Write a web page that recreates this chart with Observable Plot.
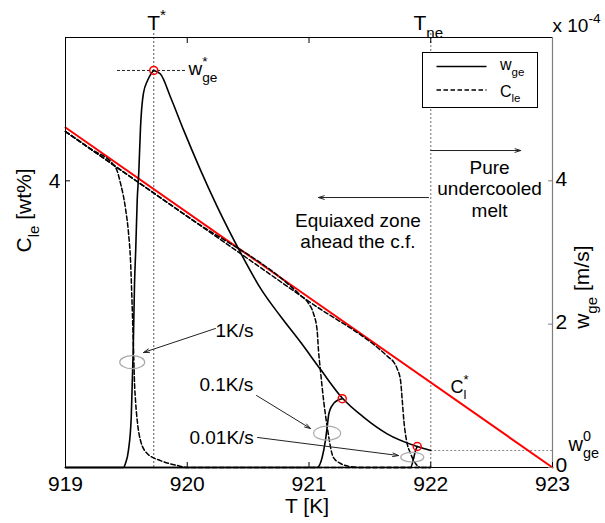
<!DOCTYPE html>
<html><head><meta charset="utf-8">
<script src="https://cdn.jsdelivr.net/npm/d3@7"></script>
<script src="https://cdn.jsdelivr.net/npm/@observablehq/plot@0.6"></script>
<style>
body{margin:0;background:#fff;}
#wrap{position:relative;width:605px;height:523px;font-family:"Liberation Sans",Arial,sans-serif;}
#legend{position:absolute;left:422px;top:52px;}
</style></head><body><div id="wrap"></div>
<script>
// ---------------- data ----------------
const tempTicks = [919, 920, 921, 922, 923];   // T [K]
const wTicks = [0, 2, 4];                       // w_ge [x1e-4 m/s]
const cTicks = [4];                             // C_le [wt%]
const cDomain = [3, 4.5];
const wDomain = [0, 6];

const Tstar = 919.725, Tne = 922.0, wStar = 5.54, w0 = 0.237;

// liquidus C_l*
const liqT = [919, 923];
const liqC = [4.186, 3.0];

// C_le(T) for each cooling rate
const cleT_1   = [919, 919.2, 919.411, 919.452, 919.493, 919.518, 919.534, 919.546, 919.559, 919.567, 919.575, 919.592, 919.616, 919.671, 919.78, 919.918, 920.0, 922.0];
const cleC_1   = [4.172, 4.113, 4.047, 3.991, 3.903, 3.816, 3.722, 3.583, 3.408, 3.293, 3.234, 3.153, 3.094, 3.049, 3.024, 3.007, 3.0, 3.0];
const cleT_01  = [919, 920.0, 920.931, 920.997, 921.037, 921.067, 921.078, 921.094, 921.12, 921.15, 921.2, 921.26, 921.34, 921.42, 922.0];
const cleC_01  = [4.172, 3.876, 3.600, 3.572, 3.537, 3.478, 3.408, 3.338, 3.234, 3.14, 3.035, 3.014, 3.003, 3.0, 3.0];
const cleT_001 = [919, 920, 921, 921.65, 921.697, 921.725, 921.752, 921.766, 921.779, 921.801, 921.834, 921.875, 921.916, 922];
const cleC_001 = [4.172, 3.876, 3.579, 3.386, 3.367, 3.344, 3.303, 3.234, 3.164, 3.094, 3.049, 3.014, 3.0, 3.0];

// w_ge(T) rising branches for each cooling rate
const wT_1   = [919, 919.476, 919.493, 919.517, 919.54, 919.556, 919.567, 919.577, 919.589, 919.602, 919.616, 919.64, 919.674, 919.705, 919.725];
const wW_1   = [0, 0, 0.06, 0.24, 0.70, 1.63, 2.57, 3.05, 3.73, 4.12, 4.74, 5.22, 5.40, 5.50, 5.54];
const wT_01  = [919, 921.067, 921.108, 921.135, 921.149, 921.163, 921.19, 921.232, 921.273];
const wW_01  = [0, 0, 0.14, 0.377, 0.56, 0.75, 0.865, 0.935, 0.96];
const wT_001 = [919, 921.834, 921.861, 921.875, 921.889];
const wW_001 = [0, 0, 0.14, 0.237, 0.293];
// common envelope
const envT = [919.725, 919.78, 919.862, 919.972, 920.109, 920.246, 920.437, 920.602, 920.766, 920.93, 921.094, 921.273, 921.45, 921.642, 921.889, 922.0];
const envW = [5.54, 5.49, 5.17, 4.70, 4.15, 3.64, 3.00, 2.50, 2.11, 1.75, 1.37, 0.97, 0.70, 0.47, 0.293, 0.237];

// peaks (red circles)
const peakT = [919.725, 921.273, 921.889];
const peakW = [5.54, 0.96, 0.293];

// annotation ellipses
const ellT = [919.548, 921.149, 921.848];
const ellW = [1.469, 0.479, 0.144];

// annotation arrows
const arrT1 = [920.232, 920.569, 920.577, 922.0, 921.982];
const arrW1 = [1.94, 1.005, 0.419, 4.423, 3.767];
const arrT2 = [919.641, 921.012, 921.735, 922.739, 921.078];
const arrW2 = [1.605, 0.544, 0.167, 4.423, 3.767];

// labels
const rateLabels = ["1K/s", "0.1K/s", "0.01K/s"];
const rateLabT = [920.232, 920.10, 920.018];
const rateLabW = [1.814, 1.074, 0.321];
const zoneLabels = ["Pure\nundercooled\nmelt", "Equiaxed zone\nahead the c.f."];
const zoneLabT = [922.483, 921.402];
const zoneLabW = [4.305, 3.565];
const topLabels = ["T^{*}", "T_{ne}"];
const topLabT = [919.671, 921.858];
const topLabW = [6.098, 6.098];
const legendKeys = ["w_{ge}", "C_{le}"];

// --------------- helpers ---------------
const cToW = c => (c - cDomain[0]) / (cDomain[1] - cDomain[0]) * (wDomain[1] - wDomain[0]) + wDomain[0];
const wToC = w => (w - wDomain[0]) / (wDomain[1] - wDomain[0]) * (cDomain[1] - cDomain[0]) + cDomain[0];
const rows = (xs, ys, extra = {}) => xs.map((x, i) => ({T: x, v: ys[i], ...extra}));

const liqRows = rows(liqT, liqC);
const cleRows = [
  ...rows(cleT_1, cleC_1, {rate: rateLabels[0]}),
  ...rows(cleT_01, cleC_01, {rate: rateLabels[1]}),
  ...rows(cleT_001, cleC_001, {rate: rateLabels[2]})
];
const wRows = [
  ...rows(wT_1, wW_1, {rate: rateLabels[0]}),
  ...rows(wT_01, wW_01, {rate: rateLabels[1]}),
  ...rows(wT_001, wW_001, {rate: rateLabels[2]}),
  ...rows(envT, envW, {rate: "envelope"})
];
const peakRows = rows(peakT, peakW);
const arrowRows = arrT1.map((t, i) => ({x1: t, y1: arrW1[i], x2: arrT2[i], y2: arrW2[i]}));
const rateLabRows = rateLabels.map((s, i) => ({s, T: rateLabT[i], v: rateLabW[i]}));
const zoneLabRows = zoneLabels.map((s, i) => ({s, T: zoneLabT[i], v: zoneLabW[i]}));
const topLabRows = topLabels.map((s, i) => ({s, T: topLabT[i], v: topLabW[i]}));

const ellipseSymbol = ratio => ({
  draw(ctx, size) {
    const rx = Math.sqrt(size / Math.PI), ry = rx * ratio, k = 0.5523;
    ctx.moveTo(rx, 0);
    ctx.bezierCurveTo(rx, k * ry, k * rx, ry, 0, ry);
    ctx.bezierCurveTo(-k * rx, ry, -rx, k * ry, -rx, 0);
    ctx.bezierCurveTo(-rx, -k * ry, -k * rx, -ry, 0, -ry);
    ctx.bezierCurveTo(k * rx, -ry, rx, -k * ry, rx, 0);
    ctx.closePath();
  }
});
const ellStyle = [{r: 12.5, ratio: 0.52}, {r: 13.5, ratio: 0.52}, {r: 11.5, ratio: 0.42}];

const yTop = 6.08;
const DASH = "4.5,2.5";

const chart = Plot.plot({
  width: 605, height: 523,
  marginLeft: 65, marginRight: 53, marginTop: 37, marginBottom: 56,
  x: {domain: [tempTicks[0], tempTicks[tempTicks.length - 1]]},
  y: {domain: wDomain},
  style: {fontFamily: "'Liberation Sans', Arial, sans-serif", fontSize: "21px", background: "white", color: "black", overflow: "visible"},
  marks: [
    Plot.ruleX([Tstar], {y1: 0, y2: yTop, stroke: "#555", strokeDasharray: "2,2", strokeWidth: 1}),
    Plot.ruleX([Tne], {y1: 0, y2: yTop, stroke: "#888", strokeDasharray: "2,2", strokeWidth: 1.2}),
    Plot.ruleY([w0], {x1: Tne, x2: tempTicks[4], stroke: "#888", strokeDasharray: "2,2", strokeWidth: 1.2}),
    Plot.ruleY([wStar], {x1: 919.427, x2: 920.002, stroke: "#222", strokeDasharray: "3,2", strokeWidth: 1}),
    Plot.line(liqRows, {x: "T", y: d => cToW(d.v), stroke: "#ff0000", strokeWidth: 2}),
    Plot.line(cleRows, {x: "T", y: d => cToW(d.v), z: "rate", stroke: "black", strokeWidth: 1.5, strokeDasharray: DASH, curve: "monotone-x"}),
    Plot.line(wRows, {x: "T", y: "v", z: "rate", stroke: "black", strokeWidth: 1.6, curve: "monotone-x"}),
    Plot.dot(peakRows, {x: "T", y: "v", r: 4, stroke: "#ff0000", strokeWidth: 1.5, fill: "none"}),
    ...ellT.map((t, i) => Plot.dot([{T: t, v: ellW[i]}], {x: "T", y: "v", r: ellStyle[i].r, symbol: ellipseSymbol(ellStyle[i].ratio), stroke: "#aaa", strokeWidth: 1.2, fill: "none"})),
    Plot.arrow(arrowRows, {x1: "x1", y1: "y1", x2: "x2", y2: "y2", stroke: "#222", strokeWidth: 1, headLength: 9, headAngle: 35}),
    Plot.text(rateLabRows, {x: "T", y: "v", text: "s", textAnchor: "start", lineAnchor: "bottom", fontSize: 19}),
    Plot.text(zoneLabRows, {x: "T", y: "v", text: "s", textAnchor: "middle", lineAnchor: "top", lineHeight: 1.12, fontSize: 19}),
    Plot.text(topLabRows, {x: "T", y: "v", text: "s", textAnchor: "start", lineAnchor: "bottom", fontSize: 21}),
    Plot.text(["x 10^{-4}"], {x: tempTicks[4], y: 6.07, text: d => d, textAnchor: "start", lineAnchor: "bottom", fontSize: 19}),
    Plot.text(["w^{*}_{ge}"], {x: 920.010, y: 5.47, text: d => d, textAnchor: "start", lineAnchor: "bottom", fontSize: 19}),
    Plot.text(["C^{*}_{l}"], {x: 922.162, y: 1.046, text: d => d, textAnchor: "start", lineAnchor: "bottom", fontSize: 18}),
    Plot.text(["w^{0}_{ge}"], {x: 923.131, y: w0, text: d => d, textAnchor: "start", lineAnchor: "bottom", fontSize: 20}),
    Plot.text(["T [K]"], {frameAnchor: "bottom", dx: -2, dy: 45, lineAnchor: "bottom", fontSize: 21}),
    Plot.text(["C_{le} [wt%]"], {frameAnchor: "left", dx: -41, rotate: -90, lineAnchor: "middle", fontSize: 21}),
    Plot.text(["w_{ge} [m/s]"], {frameAnchor: "right", dx: 30, dy: -7, rotate: -90, lineAnchor: "middle", fontSize: 21}),
    Plot.frame({stroke: "black", strokeWidth: 1}),
    Plot.ruleX([tempTicks[4]], {stroke: "#7f7f7f", strokeWidth: 1.2}),
    Plot.axisX({anchor: "bottom", ticks: tempTicks, tickSize: -5, tickPadding: 14, label: null, fontSize: 21, tickFormat: d => String(d)}),
    Plot.axisX({anchor: "top", ticks: tempTicks.slice(1, -1), tickSize: -5, tickFormat: () => "", label: null}),
    Plot.axisY({anchor: "left", ticks: cTicks.map(cToW), tickSize: -5, tickPadding: 10, label: null, fontSize: 21, tickFormat: w => String(+wToC(w).toFixed(2))}),
    Plot.axisY({anchor: "right", ticks: wTicks, tickSize: -5, label: null, stroke: "#7f7f7f", tickFormat: () => ""}),
    Plot.axisY({anchor: "right", ticks: wTicks, tickSize: 0, tickPadding: 3, dy: -2, label: null, fontSize: 21, fill: "black", tickFormat: d => String(d)})
  ]
});

const wrap = document.getElementById("wrap");
wrap.appendChild(chart);

// legend (inside the axes, as in the original)
const NS = "http://www.w3.org/2000/svg";
const leg = document.createElementNS(NS, "svg");
leg.setAttribute("id", "legend");
leg.setAttribute("width", 117); leg.setAttribute("height", 57);
leg.style.fontFamily = "'Liberation Sans', Arial, sans-serif";
leg.innerHTML = `<rect x="0.5" y="0.5" width="115" height="55" fill="white" stroke="black" stroke-width="1"/>`;
legendKeys.forEach((k, i) => {
  const yy = 14.5 + i * 23.5;
  const ln = document.createElementNS(NS, "line");
  ln.setAttribute("x1", 14.5); ln.setAttribute("x2", 64.5);
  ln.setAttribute("y1", yy); ln.setAttribute("y2", yy);
  ln.setAttribute("stroke", "black"); ln.setAttribute("stroke-width", 1.5);
  if (i === 1) ln.setAttribute("stroke-dasharray", DASH);
  leg.appendChild(ln);
  const tx = document.createElementNS(NS, "text");
  tx.setAttribute("x", 78); tx.setAttribute("y", yy + 3.5 + i * 3);
  tx.setAttribute("font-size", 16);
  tx.textContent = k;
  leg.appendChild(tx);
});
wrap.appendChild(leg);

// render _{sub} / ^{sup} markup as real tspans
function richify(root) {
  const SUB = 0.36, SUP = 0.5;
  root.querySelectorAll("text, tspan").forEach(el => {
    if (el.children.length) return;
    const s = el.textContent;
    if (!/[_^]\{/.test(s)) return;
    const fs = parseFloat(getComputedStyle(el).fontSize) || 16;
    el.textContent = "";
    const re = /([_^])\{([^}]*)\}|([^_^]+)/g;
    let m, shift = 0, prev = null;
    while ((m = re.exec(s))) {
      const t = document.createElementNS(NS, "tspan");
      let target;
      if (m[3] !== undefined) { t.textContent = m[3]; target = 0; }
      else {
        t.textContent = m[2];
        target = m[1] === "_" ? SUB * fs : -SUP * fs;
        t.setAttribute("font-size", (0.72 * fs).toFixed(1));
      }
      if (target !== shift) t.setAttribute("dy", (target - shift).toFixed(2));
      shift = target;
      if (m[3] === undefined && prev && prev.kind !== m[1]) {
        t.setAttribute("dx", (-prev.el.getComputedTextLength()).toFixed(2));
      }
      el.appendChild(t);
      prev = m[3] === undefined ? {kind: m[1], el: t} : null;
    }
  });
}
richify(wrap);
</script></body></html>
